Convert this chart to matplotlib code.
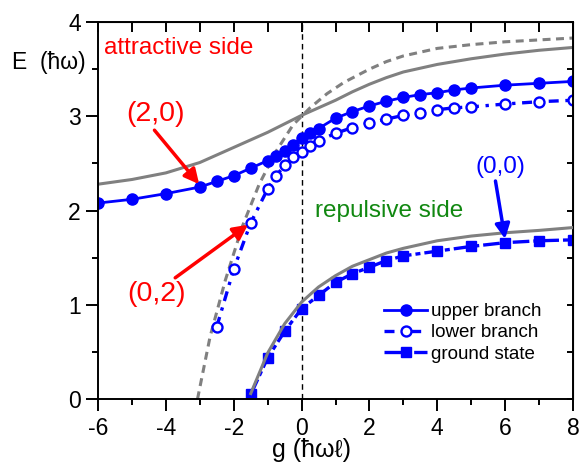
import matplotlib
matplotlib.use("Agg")
import matplotlib.pyplot as plt
from matplotlib.ticker import MultipleLocator

plt.rcParams["font.family"] = ["Liberation Sans", "DejaVu Sans"]
plt.rcParams["axes.unicode_minus"] = False

# upper branch (filled circles)
g_upper = [-6, -5, -4, -3, -2.5, -2, -1.5, -1, -0.75, -0.5, -0.25, 0, 0.25, 0.5,
           1, 1.5, 2, 2.5, 3, 3.5, 4, 4.5, 5, 6, 7, 8]
e_upper = [2.08, 2.12, 2.18, 2.25, 2.31, 2.37, 2.45, 2.53, 2.58, 2.63, 2.70, 2.77, 2.82, 2.87,
           2.98, 3.05, 3.11, 3.16, 3.20, 3.23, 3.25, 3.28, 3.30, 3.33, 3.35, 3.37]

# lower branch (open circles)
g_lower = [-2.5, -2, -1.5, -1, -0.75, -0.5, -0.25, 0, 0.25, 0.5,
           1, 1.5, 2, 2.5, 3, 3.5, 4, 4.5, 5, 6, 7, 8]
e_lower = [0.77, 1.38, 1.87, 2.23, 2.37, 2.48, 2.57, 2.62, 2.69, 2.74,
           2.82, 2.88, 2.93, 2.97, 3.01, 3.04, 3.07, 3.09, 3.10, 3.13, 3.155, 3.17]

# ground state (squares)
g_ground = [-1.5, -1, -0.5, 0, 0.5, 1, 1.5, 2, 2.5, 3, 4, 5, 6, 7, 8]
e_ground = [0.05, 0.44, 0.72, 0.96, 1.10, 1.24, 1.33, 1.40, 1.47, 1.52, 1.57, 1.62, 1.66, 1.68, 1.69]

# grey reference curves
g_ref_up = [-6, -5, -4, -3, -2.5, -2, -1.5, -1, -0.5, 0, 0.5, 1, 1.5, 2, 2.5, 3, 4, 5, 6, 7, 8]
e_ref_up = [2.28, 2.33, 2.40, 2.51, 2.59, 2.67, 2.75, 2.83, 2.92, 3.01, 3.09, 3.17, 3.26, 3.34,
            3.41, 3.47, 3.55, 3.61, 3.66, 3.70, 3.73]

g_ref_low = [-3.07, -2.7, -2.25, -1.75, -1.25, -0.75, -0.25, 0, 0.25, 0.75, 1.25, 2, 2.5, 3, 4, 5, 6, 7, 8]
e_ref_low = [0.0, 0.66, 1.26, 1.83, 2.28, 2.63, 2.91, 3.0, 3.09, 3.24, 3.36, 3.50, 3.58, 3.64, 3.72,
             3.76, 3.79, 3.81, 3.83]

g_ref_gs = [-1.5, -1, -0.5, 0, 0.5, 1, 1.5, 2, 2.5, 3, 4, 5, 6, 7, 8]
e_ref_gs = [0.06, 0.49, 0.80, 1.03, 1.19, 1.31, 1.41, 1.48, 1.55, 1.60, 1.68, 1.73, 1.765, 1.79, 1.82]

blue = "#0000ff"
grey = "#808080"

fig = plt.figure(figsize=(5.84, 4.68), dpi=100)
ax = fig.add_axes([0.168, 0.147, 0.813, 0.806])

ax.plot(g_ref_up, e_ref_up, color=grey, lw=2.2, zorder=1)
ax.plot(g_ref_low, e_ref_low, color=grey, lw=2.2, ls=(0, (2.6, 1.8)), zorder=1)
ax.plot(g_ref_gs, e_ref_gs, color=grey, lw=2.2, zorder=3)
ax.axvline(0, color="black", lw=1, ls=(0, (4, 3)), zorder=0)

ax.plot(g_upper, e_upper, color=blue, lw=2, marker="o", ms=8, label="upper branch", zorder=2)
ax.plot(g_lower, e_lower, color=blue, lw=2.4, ls=(0, (3, 2, 1, 2)), marker="o", ms=7.2,
        mfc="white", mec=blue, mew=1.7, label="lower branch", zorder=2)
ax.plot(g_ground, e_ground, color=blue, lw=2.4, ls=(0, (5, 1.2, 1.5, 1.2)), marker="s", ms=7,
        label="ground state", zorder=2)

ax.set_xlim(-6, 8)
ax.set_ylim(0, 4)

ax.xaxis.set_major_locator(MultipleLocator(2))
ax.xaxis.set_minor_locator(MultipleLocator(1))
ax.yaxis.set_major_locator(MultipleLocator(1))
ax.yaxis.set_minor_locator(MultipleLocator(0.5))
ax.tick_params(which="major", direction="out", length=8.5, width=1.4, labelsize=16.5, pad=4)
ax.tick_params(which="minor", direction="out", length=4.3, width=1.4)
for s in ax.spines.values():
    s.set_linewidth(1.4)

top = ax.secondary_xaxis("top")
top.set_xticks(range(-6, 9))
top.tick_params(direction="in", length=7, width=1.4, labeltop=False)
right = ax.secondary_yaxis("right")
right.set_yticks([0.5 * i for i in range(9)])
right.tick_params(direction="in", length=4.5, width=1.4, labelright=False)

ax.text(-0.103, 0.893, "E  (ħω)", transform=ax.transAxes, fontsize=16.5, ha="center", va="center")
ax.set_xlabel("g (ħωℓ)", fontsize=18, labelpad=-1, x=0.45, ha="center")

ax.text(-5.82, 3.72, "attractive side", color="red", fontsize=17.5, va="center")
ax.text(0.4, 2.0, "repulsive side", color="#118811", fontsize=17.5, va="center")

arrow = dict(arrowstyle="-|>", lw=2.5, mutation_scale=22, shrinkA=0, shrinkB=0)
ax.annotate("(2,0)", xy=(-3.02, 2.28), xytext=(-4.32, 3.02), color="red", fontsize=20.5,
            ha="center", va="center", arrowprops=dict(arrow, color="red", relpos=(0.45, 0)))
ax.annotate("(0,2)", xy=(-1.58, 1.85), xytext=(-4.27, 1.12), color="red", fontsize=20.5,
            ha="center", va="center", arrowprops=dict(arrow, color="red", relpos=(0.75, 1)))
ax.annotate("(0,0)", xy=(6.0, 1.7), xytext=(5.85, 2.46), color=blue, fontsize=17.5,
            ha="center", va="center", arrowprops=dict(arrow, color=blue, relpos=(0.4, 0)))

ax.legend(loc="upper left", bbox_to_anchor=(0.575, 0.29), frameon=False, fontsize=13.5,
          handlelength=2.3, handletextpad=0.2, labelspacing=0.22, borderpad=0.2)

fig.savefig("out.png", dpi=100)
